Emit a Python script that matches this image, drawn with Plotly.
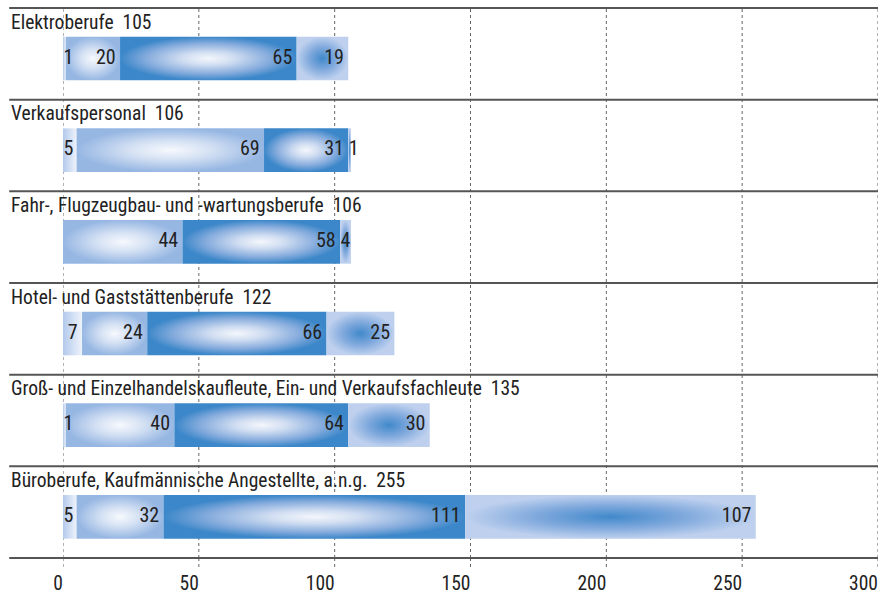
import plotly.graph_objects as go

# Occupational groups (top to bottom) and the four stacked components per group
categories = [
    "Elektroberufe",
    "Verkaufspersonal",
    "Fahr-, Flugzeugbau- und -wartungsberufe",
    "Hotel- und Gaststättenberufe",
    "Groß- und Einzelhandelskaufleute, Ein- und Verkaufsfachleute",
    "Büroberufe, Kaufmännische Angestellte, a.n.g.",
]
part_a = [1, 5, 0, 7, 1, 5]
part_b = [20, 69, 44, 24, 40, 32]
part_c = [65, 31, 58, 66, 64, 111]
part_d = [19, 1, 4, 25, 30, 107]

x_ticks = [0, 50, 100, 150, 200, 250, 300]

FONT = "Roboto Condensed, Liberation Sans Narrow, DejaVu Sans Condensed, sans-serif"
TEXT = "#222222"

# Fill style for each component
styles = [
    dict(type="horizontal", colorscale=[[0, "#b3c9ec"], [1, "#eef3fb"]]),
    dict(type="radial", colorscale=[[0, "#f7f9fd"], [0.45, "#d3e0f3"], [1, "#97b7e3"]]),
    dict(type="radial", colorscale=[[0, "#f4f7fc"], [0.3, "#d0ddf1"], [0.7, "#86acdd"], [1, "#3c87c9"]]),
    dict(type="radial", colorscale=[[0, "#4189cb"], [0.5, "#7ea8dc"], [1, "#bed0ee"]]),
]
fallback = ["#cddcf2", "#c3d5f0", "#6f9fd8", "#8fb3e2"]

series = [part_a, part_b, part_c, part_d]
n_rows = len(categories)
BAR_CENTER = 0.551
BAR_HALF = 0.238
DIGIT_W = 3.4  # approx. width of one digit in x units

fig = go.Figure()

label_x, label_y, label_t = [], [], []
for i, cat in enumerate(categories):
    start = 0
    yc = i + BAR_CENTER
    y0, y1 = yc - BAR_HALF, yc + BAR_HALF
    for k, vals in enumerate(series):
        v = vals[i]
        if v <= 0:
            continue
        end = start + v
        fig.add_trace(go.Scatter(
            x=[start, end, end, start, start],
            y=[y0, y0, y1, y1, y0],
            mode="none",
            fill="toself",
            fillcolor=fallback[k],
            fillgradient=styles[k],
            hoverinfo="skip",
            showlegend=False,
        ))
        txt = str(v)
        label_x.append(max(end - 1.6, start + DIGIT_W * len(txt) + 0.4))
        label_y.append(yc)
        label_t.append(txt)
        start = end

fig.add_trace(go.Scatter(
    x=label_x, y=label_y, text=label_t, mode="text",
    textposition="middle left",
    textfont=dict(family=FONT, size=20, color=TEXT),
    hoverinfo="skip", showlegend=False,
))

shapes = []
# dotted vertical grid lines and tick marks
for t in x_ticks:
    shapes.append(dict(type="line", xref="x", yref="paper", x0=t, x1=t, y0=0, y1=1,
                       line=dict(color="#666666", width=1, dash="dot"), layer="below"))
    shapes.append(dict(type="line", xref="x", yref="paper", x0=t, x1=t, y0=0, y1=-0.021,
                       line=dict(color="#666666", width=1, dash="dot")))
# horizontal separators between the groups
for i in range(n_rows + 1):
    yf = 1 - i / n_rows
    shapes.append(dict(type="line", xref="paper", yref="paper", x0=-0.066, x1=1, y0=yf, y1=yf,
                       line=dict(color="#555555", width=2)))

annotations = []
for i, cat in enumerate(categories):
    total = part_a[i] + part_b[i] + part_c[i] + part_d[i]
    annotations.append(dict(
        xref="paper", yref="y", x=-0.066, y=i + 0.153, xanchor="left", yanchor="middle",
        text=f"{cat}\u00a0\u00a0{total}", showarrow=False,
        font=dict(family=FONT, size=19.5, color=TEXT),
    ))

fig.update_layout(
    width=886, height=593,
    margin=dict(l=63, r=8, t=8, b=35),
    paper_bgcolor="white", plot_bgcolor="white",
    shapes=shapes, annotations=annotations,
    xaxis=dict(range=[0, 300], tickvals=x_ticks, ticks="", ticklabelstandoff=11,
               ticklabelposition="outside left", automargin=False,
               ticklabeloverflow="allow",
               showgrid=False, zeroline=False, showline=False,
               tickfont=dict(family=FONT, size=19.5, color=TEXT), fixedrange=True),
    yaxis=dict(range=[n_rows, 0], showgrid=False, zeroline=False, showticklabels=False,
               fixedrange=True, automargin=False),
)

fig.write_html("out.html")
